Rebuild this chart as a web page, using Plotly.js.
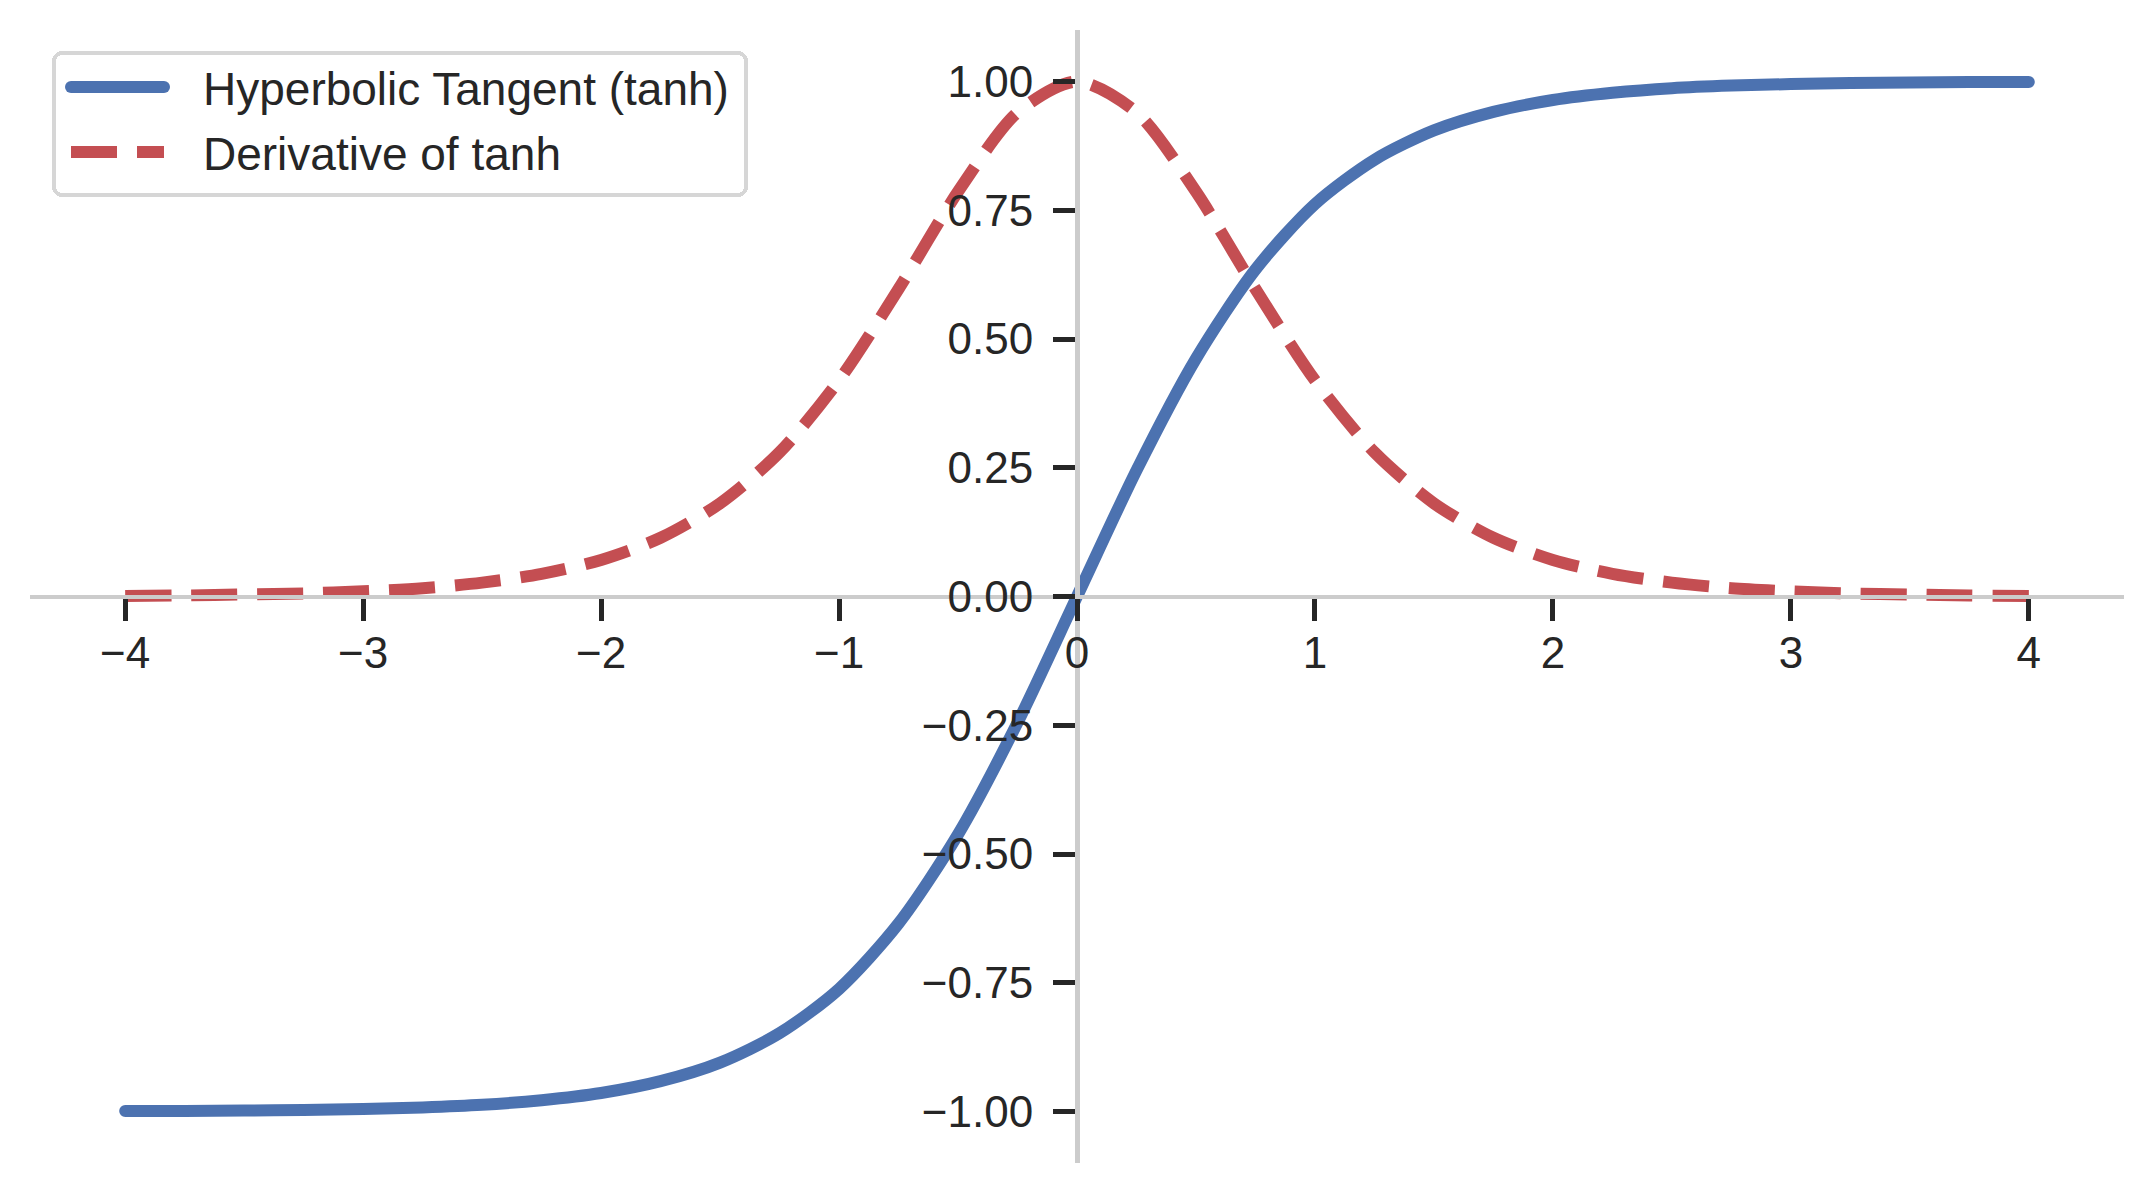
<!DOCTYPE html>
<html>
<head>
<meta charset="utf-8">
<script src="https://cdn.plot.ly/plotly-3.0.1.min.js"></script>
<style>
html,body{margin:0;padding:0;background:#fff;}
#chart{width:2152px;height:1192px;}
</style>
</head>
<body>
<div id="chart"></div>
<script>
// x positions
const xValues = [-4.0,-3.75,-3.5,-3.25,-3.0,-2.75,-2.5,-2.25,-2.0,-1.75,-1.5,-1.25,-1.0,-0.75,-0.5,-0.25,
                 0.0,0.25,0.5,0.75,1.0,1.25,1.5,1.75,2.0,2.25,2.5,2.75,3.0,3.25,3.5,3.75,4.0];
// Hyperbolic tangent values
const tanhValues = [-0.999,-0.999,-0.998,-0.997,-0.995,-0.992,-0.987,-0.978,-0.964,-0.941,-0.905,-0.848,-0.762,-0.635,-0.462,-0.245,
                    0.0,0.245,0.462,0.635,0.762,0.848,0.905,0.941,0.964,0.978,0.987,0.992,0.995,0.997,0.998,0.999,0.999];
// Derivative values
const derivValues = [0.001,0.002,0.004,0.006,0.010,0.016,0.027,0.044,0.071,0.114,0.181,0.280,0.420,0.597,0.786,0.940,
                     1.0,0.940,0.786,0.597,0.420,0.280,0.181,0.114,0.071,0.044,0.027,0.016,0.010,0.006,0.004,0.002,0.001];
const seriesNames = ["Hyperbolic Tangent (tanh)", "Derivative of tanh"];
const xTicks = [-4,-3,-2,-1,0,1,2,3,4];
const yTicks = [-1.0,-0.75,-0.5,-0.25,0.0,0.25,0.5,0.75,1.0];

const FONT = "Liberation Sans, Arial, Helvetica, sans-serif";
const TXT = "#262626";

const traces = [
  {x: xValues, y: tanhValues, name: seriesNames[0], type: "scatter", mode: "lines",
   line: {color: "#4c72b0", width: 12, shape: "spline", smoothing: 0.8}},
  {x: xValues, y: derivValues, name: seriesNames[1], type: "scatter", mode: "lines",
   line: {color: "#c44e52", width: 12, dash: "46px,20px", shape: "spline", smoothing: 0.8}}
];

const axisCommon = {
  showgrid: false, zeroline: false, showline: true,
  linecolor: "#cccccc", linewidth: 4.5,
  ticks: "outside", ticklen: 22, tickwidth: 5, tickcolor: TXT,
  tickfont: {family: FONT, size: 44, color: TXT},
  layer: "above traces", anchor: "free", position: 0.5, fixedrange: true
};

const layout = {
  width: 2152, height: 1192,
  margin: {l: 30, r: 28, t: 30, b: 29},
  paper_bgcolor: "#ffffff", plot_bgcolor: "#ffffff",
  font: {family: FONT, color: TXT},
  xaxis: Object.assign({}, axisCommon, {range: [-4.4, 4.4], tickvals: xTicks,
    ticktext: xTicks.map(v => v < 0 ? "\u2212" + Math.abs(v) : String(v)), ticklabelstandoff: -6}),
  yaxis: Object.assign({}, axisCommon, {range: [-1.1, 1.1], tickvals: yTicks,
    ticktext: yTicks.map(v => (v < 0 ? "\u2212" : "") + Math.abs(v).toFixed(2)), ticklabelstandoff: 11}),
  showlegend: true,
  legend: {
    x: 0.0105, y: 0.981, xanchor: "left", yanchor: "top",
    bgcolor: "rgba(255,255,255,0.8)", bordercolor: "#d6d6d6", borderwidth: 4,
    font: {family: FONT, size: 46, color: TXT},
    itemwidth: 100
  }
};

Plotly.newPlot("chart", traces, layout, {displayModeBar: false, staticPlot: true}).then(function (gd) {
  // round caps on the solid line, as in the reference
  const lines = gd.querySelectorAll(".scatterlayer .trace path.js-line");
  if (lines[0]) lines[0].style.strokeLinecap = "round";

  // legend styling: rounded frame, full-width samples
  const legend = gd.querySelector("g.legend");
  if (!legend) return;
  const sb = legend.querySelector(".scrollbox");
  if (sb) sb.removeAttribute("clip-path");
  const bg = legend.querySelector("rect.bg");
  if (bg) {
    const p = bg.parentNode.getCTM();
    bg.setAttribute("x", 54 - p.e);
    bg.setAttribute("y", 53 - p.f);
    bg.setAttribute("width", 692);
    bg.setAttribute("height", 142);
    bg.setAttribute("rx", 8);
    bg.setAttribute("ry", 8);
  }
  const rowY = [87, 152];
  legend.querySelectorAll("g.traces").forEach(function (g, i) {
    const p = g.parentNode.getCTM();
    g.setAttribute("transform", "translate(" + (52 - p.e) + "," + (rowY[i] - p.f) + ")");
    const path = g.querySelector(".legendlines path");
    if (path) {
      path.setAttribute("d", "M19,0h93");
      path.style.strokeWidth = "12px";
      if (i === 0) path.style.strokeLinecap = "round";
    }
    const t = g.querySelector("text.legendtext");
    if (t) t.setAttribute("x", 151);
  });
});
</script>
</body>
</html>
